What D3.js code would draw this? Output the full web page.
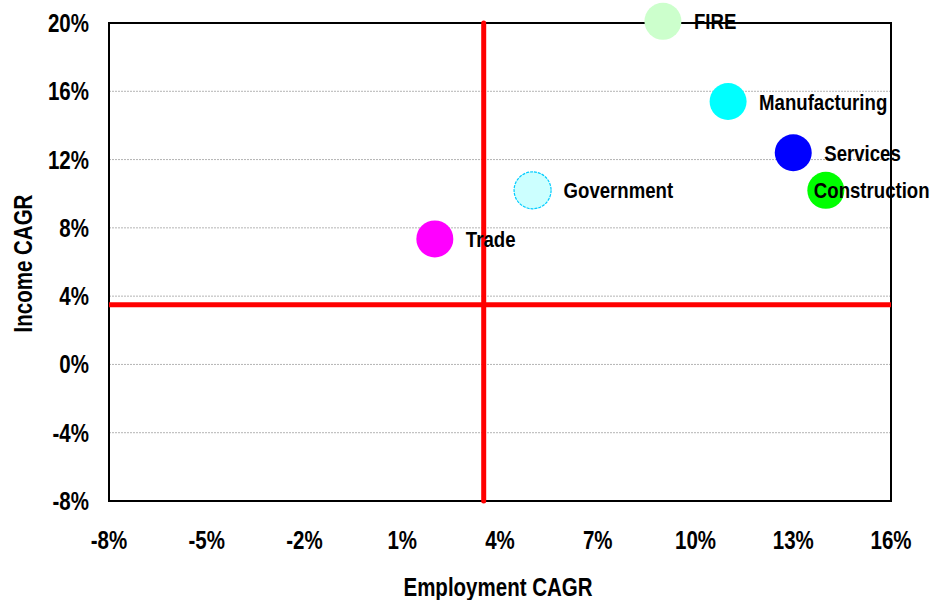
<!DOCTYPE html>
<html>
<head>
<meta charset="utf-8">
<script src="https://cdn.jsdelivr.net/npm/d3@7"></script>
<style>
  body { margin: 0; background: #fff; }
  text { font-family: "Liberation Sans", Arial, sans-serif; font-weight: bold; fill: #000; }
</style>
</head>
<body>
<div id="chart"></div>
<script>
// sectors and their growth rates (%)
const sectors = ["FIRE", "Manufacturing", "Services", "Construction", "Government", "Trade"];
const employmentCagr = [9.0, 11.0, 13.0, 14.0, 5.0, 2.0];
const incomeCagr = [20.1, 15.4, 12.4, 10.2, 10.2, 7.35];
const fills = ["#ccffcc", "#00ffff", "#0000ff", "#00ff00", "#ccffff", "#ff00ff"];
const xTicks = [-8, -5, -2, 1, 4, 7, 10, 13, 16];
const yTicks = [-8, -4, 0, 4, 8, 12, 16, 20];
const refEmployment = 3.5;
const refIncome = 3.5;

const width = 932, height = 600;
const margin = { top: 23, right: 41, bottom: 99, left: 109 };
const narrow = 0.82; // squeeze Liberation Sans to look like a narrow face

const svg = d3.select("#chart").append("svg")
    .attr("width", width)
    .attr("height", height);

const x = d3.scaleLinear().domain([-8, 16]).range([margin.left, width - margin.right]);
const y = d3.scaleLinear().domain([-8, 20]).range([height - margin.bottom, margin.top]);

function at(px, py, rot) {
    return "translate(" + px + "," + py + ")" + (rot ? " rotate(" + rot + ")" : "") + " scale(" + narrow + ",1)";
}

// gridlines
svg.append("g")
    .selectAll("line")
    .data(yTicks.slice(1, -1))
    .join("line")
    .attr("x1", x(-8)).attr("x2", x(16))
    .attr("y1", d => y(d)).attr("y2", d => y(d))
    .attr("stroke", "#b4b4b4")
    .attr("stroke-width", 1)
    .attr("stroke-dasharray", "2,1");

// plot frame
svg.append("rect")
    .attr("x", x(-8)).attr("y", y(20))
    .attr("width", x(16) - x(-8))
    .attr("height", y(-8) - y(20))
    .attr("fill", "none")
    .attr("stroke", "#000")
    .attr("stroke-width", 2);

// y tick labels
svg.append("g")
    .selectAll("text")
    .data(yTicks)
    .join("text")
    .attr("transform", d => at(89, y(d)))
    .attr("dy", "0.36em")
    .attr("text-anchor", "end")
    .style("font-size", "25px")
    .text(d => d + "%");

// x tick labels
svg.append("g")
    .selectAll("text")
    .data(xTicks)
    .join("text")
    .attr("transform", d => at(x(d), 549))
    .attr("text-anchor", "middle")
    .style("font-size", "25px")
    .text(d => d + "%");

// axis titles
svg.append("text")
    .attr("transform", at(498, 596))
    .attr("text-anchor", "middle")
    .style("font-size", "25px")
    .text("Employment CAGR");

svg.append("text")
    .attr("transform", at(31.5, 263.5, -90))
    .attr("text-anchor", "middle")
    .style("font-size", "25px")
    .text("Income CAGR");

// quadrant lines
svg.append("line")
    .attr("x1", x(-8)).attr("x2", x(16))
    .attr("y1", y(refIncome)).attr("y2", y(refIncome))
    .attr("stroke", "#ff0000").attr("stroke-width", 5);

svg.append("line")
    .attr("x1", x(refEmployment)).attr("x2", x(refEmployment))
    .attr("y1", y(20)).attr("y2", y(-8))
    .attr("stroke", "#ff0000").attr("stroke-width", 5)
    .attr("stroke-linecap", "round");

// points
const pts = sectors.map((s, i) => ({ name: s, ex: employmentCagr[i], inc: incomeCagr[i], fill: fills[i] }));

svg.append("g")
    .selectAll("circle")
    .data(pts)
    .join("circle")
    .attr("cx", d => x(d.ex))
    .attr("cy", d => y(d.inc))
    .attr("r", 18.5)
    .attr("fill", d => d.fill)
    .attr("stroke", d => d.name === "Government" ? "#00ccff" : "none")
    .attr("stroke-width", 1.2)
    .attr("stroke-dasharray", d => d.name === "Government" ? "3,1" : null);

// labels sit right of the bubble; Construction is pulled back so it fits
svg.append("g")
    .selectAll("text")
    .data(pts)
    .join("text")
    .attr("transform", d => at(x(d.ex) + (d.name === "Construction" ? -12 : 31), y(d.inc)))
    .attr("dy", "0.36em")
    .style("font-size", "22.7px")
    .text(d => d.name);
</script>
</body>
</html>
